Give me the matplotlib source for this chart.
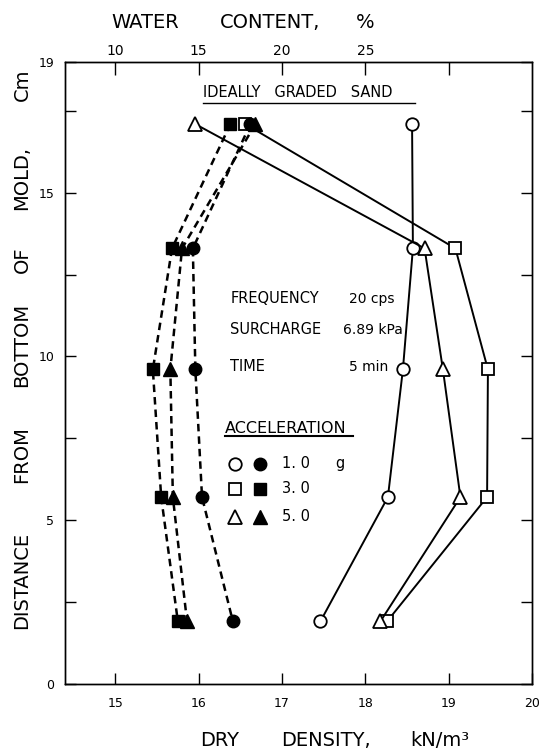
import matplotlib
matplotlib.use('Agg')
import matplotlib.pyplot as plt
import numpy as np

# Distance from bottom of mold (cm) for each measuring level
profundidad = [17.1, 13.3, 9.6, 5.7, 1.9]

# Dry density, kN/m3 (open markers, solid lines)
densidad_10g = [18.56, 18.57, 18.45, 18.27, 17.46]
densidad_30g = [16.56, 19.08, 19.47, 19.46, 18.26]
densidad_50g = [15.96, 18.71, 18.93, 19.14, 18.18]

# Water content, % (filled markers, dashed lines)
humedad_10g = [18.1, 14.65, 14.8, 15.2, 17.05]
humedad_30g = [16.9, 13.4, 12.25, 12.75, 13.75]
humedad_50g = [18.4, 14.0, 13.3, 13.45, 14.3]

marcadores = ['o', 's', '^']
tamanos = [9, 8.5, 9.5]

W, H = 539, 752
fig = plt.figure(figsize=(W / 100, H / 100), dpi=100)
ax = fig.add_axes([0.1212, 0.091, 0.866, 0.8266])
ax_w = ax.twiny()

ax.set_xlim(14.4, 20)
ax.set_ylim(0, 19)
ax_w.set_xlim(7, 35)

# Dry density curves
for dens, m, ms in zip([densidad_10g, densidad_30g, densidad_50g], marcadores, tamanos):
    ax.plot(dens, profundidad, color='black', lw=1.4, marker=m, ms=ms,
            mfc='white', mec='black', mew=1.3, zorder=3)

# Water content curves
for hum, m, ms in zip([humedad_10g, humedad_30g, humedad_50g], marcadores, tamanos):
    ax_w.plot(hum, profundidad, color='black', lw=1.8, ls=(0, (3, 2)), marker=m,
              ms=ms, mfc='black', mec='black', zorder=3)

# Axes and ticks
for a in (ax, ax_w):
    for s in a.spines.values():
        s.set_linewidth(1.0)
ax.set_xticks([15, 16, 17, 18, 19, 20])
ax.set_xticklabels(['15', '16', '17', '18', '19', '20'], fontsize=9)
ax.set_yticks([0, 5, 10, 15, 19])
ax.set_yticklabels(['0', '5', '10', '15', '19'], fontsize=9)
ax.set_yticks([2.5, 7.5, 12.5, 17.5], minor=True)
ax.tick_params(axis='both', which='both', direction='in', length=8, width=1.0,
               right=True, pad=8)
ax.tick_params(axis='x', pad=10)
ax_w.set_xticks([10, 15, 20, 25, 30])
ax_w.set_xticklabels(['10', '15', '20', '25', ''], fontsize=10)
ax_w.tick_params(axis='x', direction='in', length=9, width=1.0, pad=3)


# Axis titles are lettered word by word, widely spaced
def palabra(px, py, texto, rot=0, size=14):
    fig.text(px / W, 1 - py / H, texto, fontsize=size, rotation=rot,
             ha='center', va='center')


for px, t in [(145, 'WATER'), (270, 'CONTENT,'), (365, '%')]:
    palabra(px, 22, t)
for px, t in [(220, 'DRY'), (326, 'DENSITY,'), (440, 'kN/m³')]:
    palabra(px, 741, t)
for py, t in [(580, 'DISTANCE'), (455, 'FROM'), (345, 'BOTTOM'), (260, 'OF'),
              (178, 'MOLD,'), (85, 'Cm')]:
    palabra(22, py, t, rot=90)

# Title inside the plot, underlined
ax.text(16.05, 17.93, 'IDEALLY   GRADED   SAND', fontsize=10.5, ha='left',
        va='baseline')
ax.plot([16.05, 18.6], [17.75, 17.75], color='black', lw=1.0)

# Test conditions
ax.text(16.38, 11.76, 'FREQUENCY', fontsize=10.5, va='center')
ax.text(17.8, 11.76, '20 cps', fontsize=10, va='center')
ax.text(16.38, 10.81, 'SURCHARGE', fontsize=10.5, va='center')
ax.text(17.73, 10.81, '6.89 kPa', fontsize=10, va='center')
ax.text(16.38, 9.68, 'TIME', fontsize=10.5, va='center')
ax.text(17.8, 9.68, '5 min', fontsize=10, va='center')

# Legend block
ax.text(16.32, 7.81, 'ACCELERATION', fontsize=11.5, va='center')
ax.plot([16.32, 17.85], [7.58, 7.58], color='black', lw=1.5)
etiquetas = ['1. 0', '3. 0', '5. 0']
filas = [6.72, 5.95, 5.1]
for m, ms, et, fy in zip(marcadores, tamanos, etiquetas, filas):
    ax.plot([16.44], [fy], marker=m, ms=ms, mfc='white', mec='black', mew=1.3,
            ls='none')
    ax.plot([16.74], [fy], marker=m, ms=ms, mfc='black', mec='black', ls='none')
    ax.text(17.0, fy, et, fontsize=10.5, va='center')
ax.text(17.64, filas[0], 'g', fontsize=10.5, va='center')

fig.savefig('out.png', dpi=100)
